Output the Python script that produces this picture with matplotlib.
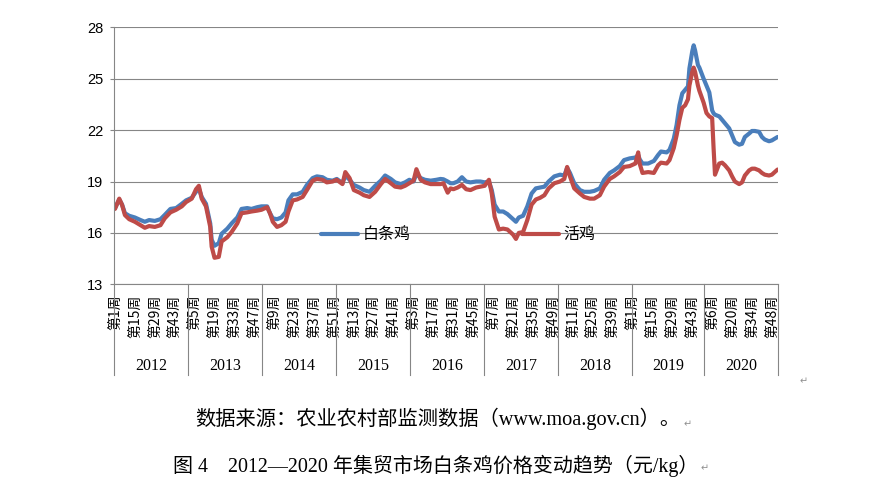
import matplotlib.pyplot as plt
import numpy as np
from matplotlib.transforms import blended_transform_factory

# x axis: one category per week, grouped by year
years = [2012, 2013, 2014, 2015, 2016, 2017, 2018, 2019, 2020]
weeks_per_year = [52, 52, 52, 52, 52, 52, 52, 51, 52]
label_step = 14

# readings (global week index, price in yuan/kg)
week_idx = [0, 3, 5, 7, 10, 14, 18, 21, 24, 28, 32, 35, 39, 43, 47, 50,
            54, 57, 59, 61, 64, 67, 68, 70, 73, 75, 79, 82, 86, 89, 93, 96,
            100, 103, 107, 109, 111, 114, 117, 120, 122, 125, 128, 132, 135, 139, 142, 146,
            149, 153, 156, 160, 162, 165, 168, 172, 175, 179, 183, 187, 190, 194, 197, 201,
            204, 207, 210, 212, 215, 218, 222, 226, 229, 231, 234, 236, 238, 241, 244, 247,
            250, 254, 257, 260, 263, 265, 267, 270, 273, 276, 280, 282, 284, 287, 290, 293,
            296, 299, 302, 305, 309, 313, 316, 318, 320, 323, 327, 330, 334, 337, 341, 344,
            348, 351, 355, 358, 362, 366, 368, 369, 371, 375, 379, 382, 384, 388, 390, 393,
            395, 397, 399, 401, 403, 404, 406, 407, 408, 410, 411, 414, 416, 418, 420, 421,
            422, 425, 427, 429, 432, 434, 436, 439, 441, 443, 446, 448, 450, 453, 455, 457,
            460, 462, 464, 466]
baitiaoji = [17.45, 17.95, 17.65, 17.15, 17.0, 16.9, 16.75, 16.65, 16.75, 16.7, 16.8, 17.05, 17.4, 17.45, 17.7, 17.9,
             18.05, 18.4, 18.6, 18.1, 17.7, 16.55, 15.6, 15.25, 15.4, 15.95, 16.25, 16.55, 16.9, 17.4, 17.45, 17.4,
             17.5, 17.55, 17.55, 17.15, 16.85, 16.8, 16.9, 17.2, 17.9, 18.25, 18.25, 18.4, 18.8, 19.2, 19.3, 19.25,
             19.1, 19.05, 19.15, 18.9, 19.35, 19.1, 18.8, 18.65, 18.5, 18.4, 18.75, 19.05, 19.35, 19.15, 18.95, 18.85,
             18.95, 19.1, 19.0, 19.45, 19.2, 19.1, 19.05, 19.1, 19.15, 19.13, 19.0, 18.9, 18.9, 19.0, 19.25, 19.0,
             18.95, 19.0, 19.0, 18.95, 19.0, 18.5, 17.65, 17.25, 17.25, 17.1, 16.8, 16.65, 16.9, 17.0, 17.55, 18.3,
             18.6, 18.65, 18.7, 19.0, 19.3, 19.4, 19.35, 19.8, 19.5, 18.9, 18.5, 18.4, 18.4, 18.45, 18.6, 19.1,
             19.5, 19.65, 19.9, 20.25, 20.35, 20.4, 20.55, 20.3, 20.05, 20.05, 20.2, 20.55, 20.75, 20.7, 20.85, 21.5,
             22.3, 23.45, 24.15, 24.35, 24.55, 25.6, 26.6, 26.95, 26.65, 25.8, 25.65, 25.0, 24.6, 24.2, 23.15, 22.98,
             22.9, 22.8, 22.6, 22.4, 22.1, 21.7, 21.3, 21.15, 21.2, 21.6, 21.8, 21.95, 21.95, 21.9, 21.6, 21.45,
             21.35, 21.4, 21.5, 21.6]
huoji = [17.4, 18.0, 17.63, 17.04, 16.8, 16.65, 16.45, 16.3, 16.4, 16.35, 16.45, 16.85, 17.2, 17.35, 17.55, 17.8,
         18.0, 18.55, 18.75, 18.0, 17.55, 16.35, 15.2, 14.55, 14.6, 15.5, 15.75, 16.05, 16.55, 17.15, 17.2, 17.25,
         17.3, 17.35, 17.5, 17.15, 16.65, 16.35, 16.45, 16.65, 17.25, 17.9, 17.95, 18.1, 18.5, 19.05, 19.15, 19.1,
         18.95, 19.0, 19.1, 18.85, 19.55, 19.2, 18.5, 18.35, 18.2, 18.1, 18.4, 18.85, 19.15, 18.9, 18.7, 18.65,
         18.75, 18.9, 19.05, 19.72, 19.1, 18.95, 18.85, 18.85, 18.85, 18.9, 18.35, 18.6, 18.55, 18.65, 18.8, 18.55,
         18.5, 18.65, 18.7, 18.75, 19.1, 18.3, 16.95, 16.2, 16.25, 16.2, 15.9, 15.65, 16.0, 16.05, 16.75, 17.65,
         17.95, 18.05, 18.2, 18.6, 18.9, 19.0, 19.15, 19.85, 19.3, 18.6, 18.3, 18.1, 18.0, 18.0, 18.2, 18.7,
         19.15, 19.3, 19.55, 19.85, 19.9, 20.05, 20.7, 20.05, 19.5, 19.55, 19.5, 19.95, 20.1, 20.05, 20.25, 20.95,
         21.7, 22.6, 23.3, 23.45, 23.8, 24.6, 25.4, 25.65, 25.4, 24.6, 24.3, 23.6, 23.0, 22.8, 22.7, 20.95,
         19.4, 20.05, 20.1, 19.95, 19.65, 19.3, 19.0, 18.85, 18.95, 19.35, 19.65, 19.75, 19.75, 19.65, 19.5, 19.4,
         19.35, 19.4, 19.55, 19.7]

plt.rcParams['font.family'] = ['Noto Sans CJK SC', 'DejaVu Sans']
grid_c = '#868686'
serif = ['Liberation Serif', 'Noto Sans CJK SC', 'DejaVu Sans']

fig = plt.figure(figsize=(8.81, 4.96), dpi=100)
ax = fig.add_axes([0.1297, 0.4268, 0.7537, 0.5181])

ax.plot(week_idx, baitiaoji, color='#4A7EBB', lw=3, label='白条鸡',
        solid_joinstyle='round', solid_capstyle='round')
ax.plot(week_idx, huoji, color='#BE4B48', lw=3, label='活鸡',
        solid_joinstyle='round', solid_capstyle='round')

total = sum(weeks_per_year)
ax.set_xlim(-0.5, total - 0.5)
ax.set_ylim(13, 28)
ax.set_yticks(np.arange(13, 29, 3))
ax.yaxis.grid(True, color=grid_c, lw=0.8)
ax.set_axisbelow(True)
for s in ['top', 'right']:
    ax.spines[s].set_visible(False)
for s in ['left', 'bottom']:
    ax.spines[s].set_color(grid_c)
    ax.spines[s].set_linewidth(0.8)
ax.tick_params(axis='y', length=3, width=0.8, color=grid_c, pad=5, labelsize=10.5)
for t in ax.get_yticklabels():
    t.set_family('Liberation Sans')

# week tick labels every 14 weeks
starts = np.concatenate([[0], np.cumsum(weeks_per_year)])
ticks, labels = [], []
for i in range(0, total, label_step):
    k = np.searchsorted(starts, i, side='right') - 1
    ticks.append(i)
    labels.append('第%d周' % (i - starts[k] + 1))
ax.set_xticks(ticks)
ax.set_xticklabels(labels, rotation=90, fontsize=10)
ax.tick_params(axis='x', length=0, pad=7.5)

# year groups
trans = blended_transform_factory(ax.transData, ax.transAxes)
bounds = starts - 0.5
for b in bounds:
    ax.plot([b, b], [0, -0.353], transform=trans, color=grid_c, lw=0.8, clip_on=False)
for y, a, b in zip(years, bounds[:-1], bounds[1:]):
    ax.text((a + b) / 2, -0.318, str(y), transform=trans, ha='center', va='center',
            family='Liberation Serif', fontsize=11.5)

ax.legend(loc='center', bbox_to_anchor=(0.518, 0.192), ncol=2, frameon=False,
          fontsize=11.5, handlelength=2.3, handletextpad=0.3, columnspacing=7.0)

# captions under the chart
t1 = fig.text(0.497, 1 - 419 / 496, '数据来源：农业农村部监测数据（www.moa.gov.cn）。',
              ha='center', va='center', fontsize=14.6, family=serif)
t2 = fig.text(0.494, 1 - 466 / 496, '图 4    2012—2020 年集贸市场白条鸡价格变动趋势（元/kg）',
              ha='center', va='center', fontsize=14.4, family=serif)

fig.canvas.draw()
r = fig.canvas.get_renderer()
W = fig.bbox.width
for t, yy in [(t1, 424), (t2, 468)]:
    bb = t.get_window_extent(r)
    fig.text((bb.x1 + 3) / W, 1 - yy / 496, '↵', fontsize=7, color='#909090',
             ha='left', va='center', family='DejaVu Sans')
fig.text(800 / W, 1 - 381 / 496, '↵', fontsize=7, color='#909090',
         ha='left', va='center', family='DejaVu Sans')

fig.savefig('out.png', dpi=100)
